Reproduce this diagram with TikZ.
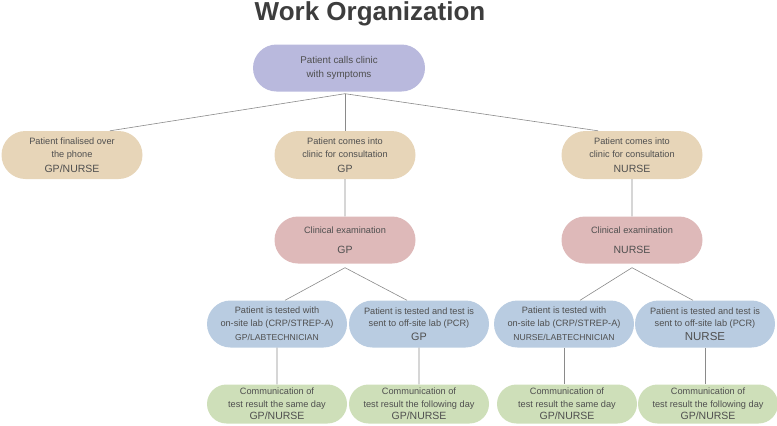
\documentclass[tikz,border=0pt]{standalone}
\usepackage{fontspec}
\setmainfont{Liberation Sans}
\usepackage{tikz}
\usetikzlibrary{shapes.misc,positioning}

\definecolor{txtgray}{HTML}{4F4F4F}
\definecolor{linegray}{HTML}{8A8A8A}
\definecolor{lavender}{HTML}{B9B9DD}
\definecolor{sand}{HTML}{E7D5B8}
\definecolor{rose}{HTML}{DEB9B9}
\definecolor{steel}{HTML}{B9CCE1}
\definecolor{sage}{HTML}{CEDFB9}

\newcommand{\bodyfont}{\fontsize{9.2}{12.5}\selectfont}
\newcommand{\rolefont}{\fontsize{10.5}{13}\selectfont}

\begin{document}
\begin{tikzpicture}[x=1pt,y=-1pt,node distance=80pt,on grid,
    pill/.style={rounded rectangle,draw=none,text=txtgray,align=center,
      inner sep=0pt,minimum width=141pt,minimum height=47pt,font=\bodyfont},
    callbox/.style={pill,fill=lavender,minimum width=172pt,font=\fontsize{9.8}{13.8}\selectfont},
    visitbox/.style={pill,fill=sand,minimum height=48pt},
    exambox/.style={pill,fill=rose},
    testbox/.style={pill,fill=steel,minimum width=140pt},
    resultbox/.style={pill,fill=sage,minimum width=140pt,minimum height=39pt},
    link/.style={draw=linegray,line width=0.6pt}]
        \useasboundingbox (0,0) rectangle (777,426);
        \node[text=black!76,font=\fontsize{26}{30}\selectfont\bfseries] (title) at (370,14) {Work Organization};

        \node[callbox] (call) at (339,68) {Patient calls clinic\\with symptoms};
        \node[visitbox] (gpvisit) [below right = 87pt and 6pt of call] {Patient comes into\\clinic for consultation\\[2.5pt]{\rolefont GP}};
        \node[visitbox] (phone) [left = 273pt of gpvisit] {Patient finalised over\\the phone\\[2.5pt]{\rolefont GP/NURSE}};
        \node[visitbox] (nvisit) [right = 287pt of gpvisit] {Patient comes into\\clinic for consultation\\[2.5pt]{\rolefont NURSE}};

        \node[exambox] (gpexam) [below = 85pt of gpvisit] {Clinical examination\\[8pt]{\rolefont GP}};
        \node[exambox] (nexam) [below = 85pt of nvisit] {Clinical examination\\[8pt]{\rolefont NURSE}};

        \node[testbox] (gplab) [below left = 84pt and 68pt of gpexam] {Patient is tested with\\on-site lab (CRP/STREP-A)\\[2pt]{\fontsize{8.6}{11}\selectfont GP/LABTECHNICIAN}};
        \node[testbox] (gppcr) [right = 142pt of gplab] {Patient is tested and test is\\sent to off-site lab (PCR)\\[1pt]{\fontsize{10.8}{12}\selectfont GP}};
        \node[testbox] (nlab) [below left = 84pt and 68pt of nexam] {Patient is tested with\\on-site lab (CRP/STREP-A)\\[2pt]{\fontsize{8.6}{11}\selectfont NURSE/LABTECHNICIAN}};
        \node[testbox] (npcr) [right = 141pt of nlab] {Patient is tested and test is\\sent to off-site lab (PCR)\\[1pt]{\fontsize{11.5}{12}\selectfont NURSE}};

        \node[resultbox] (gpsame) [below = 80pt of gplab] {Communication of\\test result the same day\\{\rolefont GP/NURSE}};
        \node[resultbox] (gpnext) [below = 80pt of gppcr] {Communication of\\test result the following day\\{\rolefont GP/NURSE}};
        \node[resultbox] (nsame) [below right = 80pt and 3pt of nlab] {Communication of\\test result the same day\\{\rolefont GP/NURSE}};
        \node[resultbox] (nnext) [below right = 80pt and 3pt of npcr] {Communication of\\test result the following day\\{\rolefont GP/NURSE}};

        % tree lines
        \coordinate (callhub) at ([yshift=-2pt]call.south -| gpvisit);
        \coordinate (gphub) at ([yshift=-4pt]gpexam.south);
        \coordinate (nhub) at ([yshift=-4pt]nexam.south);
        \path[link]
        (callhub) edge ([xshift=38pt]phone.north)
        (callhub) edge (gpvisit.north)
        (callhub) edge ([xshift=-34pt]nvisit.north)
        (gpvisit) edge (gpexam)
        (nvisit) edge (nexam)
        (gphub) edge ([xshift=8pt]gplab.north)
        (gphub) edge ([xshift=-12pt]gppcr.north)
        (nhub) edge ([xshift=16pt]nlab.north)
        (nhub) edge ([xshift=-12pt]npcr.north)
        (gplab) edge (gpsame)
        (gppcr) edge (gpnext)
        (nlab.south) edge (nlab.south |- nsame.north)
        (npcr.south) edge (npcr.south |- nnext.north)
        ;
      \end{tikzpicture}
\end{document}
